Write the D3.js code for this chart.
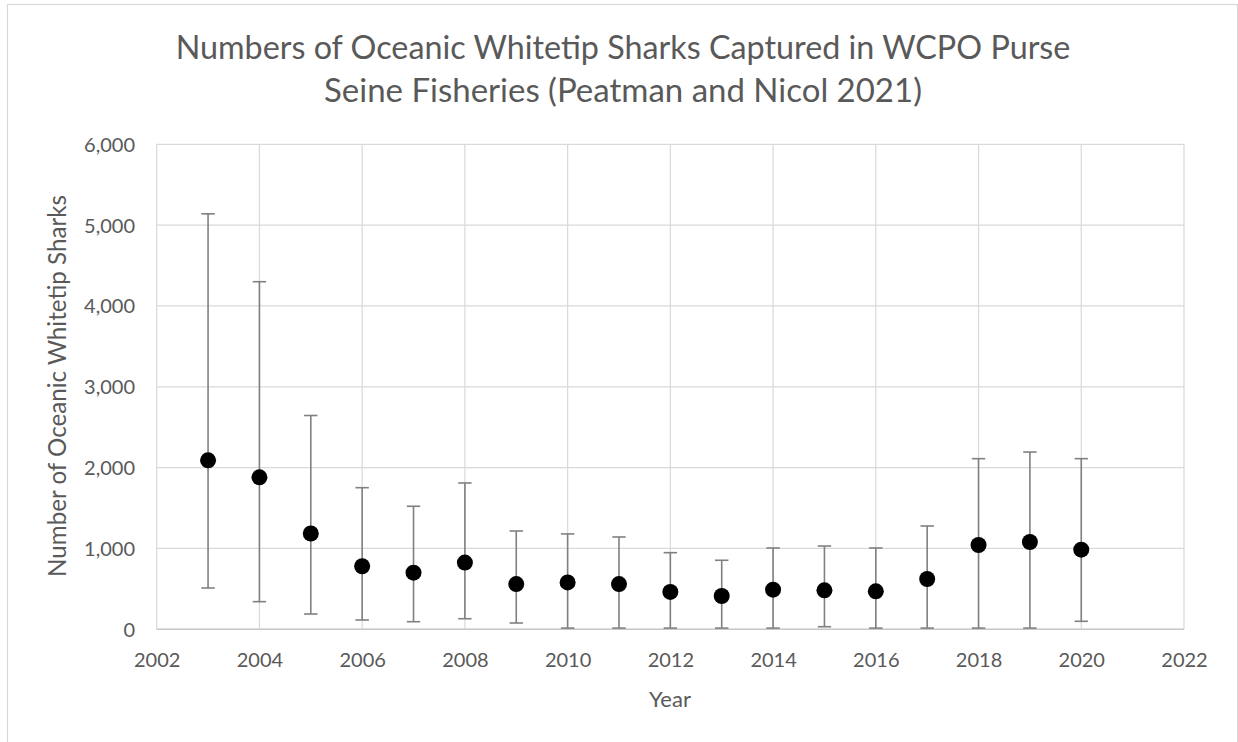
<!DOCTYPE html>
<html>
<head>
<meta charset="utf-8">
<script src="https://cdn.jsdelivr.net/npm/d3@7"></script>
<style>
  html, body { margin: 0; padding: 0; background: #fff; }
  svg { display: block; }
  text { font-family: Lato, "Open Sans", sans-serif; fill: #595959; }
</style>
</head>
<body>
<svg id="chart" width="1238" height="742"></svg>
<script>
const titleLines = ["Numbers of Oceanic Whitetip Sharks Captured in WCPO Purse", "Seine Fisheries (Peatman and Nicol 2021)"];
const xLabel = "Year";
const yLabel = "Number of Oceanic Whitetip Sharks";
const years = [2003,2004,2005,2006,2007,2008,2009,2010,2011,2012,2013,2014,2015,2016,2017,2018,2019,2020];
const estimates = [2090,1880,1185,780,700,825,560,580,560,462,412,490,482,470,622,1043,1080,985];
const upperBounds = [5140,4300,2645,1752,1522,1810,1216,1180,1142,948,854,1006,1030,1006,1278,2111,2193,2111];
const lowerBounds = [511,342,189,115,94,131,78,15,15,15,15,15,32,15,15,15,15,99];
const xTicks = [2002,2004,2006,2008,2010,2012,2014,2016,2018,2020,2022];
const yTicks = [0,1000,2000,3000,4000,5000,6000];

const svg = d3.select("#chart");
const W = 1238, H = 742;
const plot = {left: 156.7, right: 1184, top: 144.3, bottom: 629.3};

const x = d3.scaleLinear().domain([2002, 2022]).range([plot.left, plot.right]);
const y = d3.scaleLinear().domain([0, 6000]).range([plot.bottom, plot.top]);

// outer chart border
svg.append("rect").attr("x", 7.5).attr("y", 4.5).attr("width", 1230).attr("height", 760)
  .attr("fill", "#fff").attr("stroke", "#d9d9d9").attr("stroke-width", 1.2);

// gridlines
const grid = svg.append("g");
grid.selectAll("line.h").data(yTicks).join("line")
  .attr("x1", plot.left).attr("x2", plot.right)
  .attr("y1", d => y(d)).attr("y2", d => y(d))
  .attr("stroke", "#d9d9d9").attr("stroke-width", 1.2);
grid.selectAll("line.v").data(xTicks).join("line")
  .attr("x1", d => x(d)).attr("x2", d => x(d))
  .attr("y1", plot.top).attr("y2", plot.bottom)
  .attr("stroke", "#d9d9d9").attr("stroke-width", 1.2);
// bottom axis line slightly darker
svg.append("line").attr("x1", plot.left).attr("x2", plot.right)
  .attr("y1", y(0)).attr("y2", y(0)).attr("stroke", "#c8c8c8").attr("stroke-width", 1.5);

// axes (labels only)
const xAxis = d3.axisBottom(x).tickValues(xTicks).tickFormat(d3.format("d")).tickSize(0).tickPadding(0);
const gx = svg.append("g").attr("transform", `translate(0,${plot.bottom})`).call(xAxis);
gx.select(".domain").remove();
gx.selectAll("text").attr("dy", null).attr("y", 37.4).style("font-size", "20px").style("fill", "#595959")
  .attr("font-family", "Lato");

const yAxis = d3.axisLeft(y).tickValues(yTicks).tickFormat(d3.format(",")).tickSize(0).tickPadding(0);
const gy = svg.append("g").attr("transform", `translate(135,0)`).call(yAxis);
gy.select(".domain").remove();
gy.selectAll("text").attr("dy", null).attr("x", 0).attr("y", 7).style("font-size", "20px").style("fill", "#595959");

// error bars
const data = years.map((yr, i) => ({yr, v: estimates[i], hi: upperBounds[i], lo: lowerBounds[i]}));
const eb = svg.append("g").attr("stroke", "#808080").attr("stroke-width", 1.6);
eb.selectAll("line.stem").data(data).join("line")
  .attr("x1", d => x(d.yr)).attr("x2", d => x(d.yr))
  .attr("y1", d => y(d.hi)).attr("y2", d => y(d.lo));
eb.selectAll("line.capT").data(data).join("line")
  .attr("x1", d => x(d.yr) - 6.7).attr("x2", d => x(d.yr) + 6.7)
  .attr("y1", d => y(d.hi)).attr("y2", d => y(d.hi));
eb.selectAll("line.capB").data(data).join("line")
  .attr("x1", d => x(d.yr) - 6.7).attr("x2", d => x(d.yr) + 6.7)
  .attr("y1", d => y(d.lo)).attr("y2", d => y(d.lo));

// points
svg.append("g").selectAll("circle").data(data).join("circle")
  .attr("cx", d => x(d.yr)).attr("cy", d => y(d.v)).attr("r", 8).attr("fill", "#000");

// title
const tBase = [59.3, 101.7];
const tWidths = [895, 598];
titleLines.forEach((t, i) => {
  const el = svg.append("text").attr("x", 623).attr("y", tBase[i]).attr("text-anchor", "middle")
    .style("font-size", "32px").text(t);
  const w = el.node().getComputedTextLength();
  if (w > 0) el.style("font-size", (32 * tWidths[i] / w).toFixed(2) + "px");
});

// axis titles
const xl = svg.append("text").attr("x", 670).attr("y", 706.7).attr("text-anchor", "middle")
  .style("font-size", "22px").text(xLabel);
const yl = svg.append("text").attr("transform", "translate(65.7,386) rotate(-90)").attr("text-anchor", "middle")
  .style("font-size", "22px").text(yLabel);
const yw = yl.node().getComputedTextLength();
if (yw > 0) yl.style("font-size", (22 * 382 / yw).toFixed(2) + "px");
</script>
</body>
</html>
